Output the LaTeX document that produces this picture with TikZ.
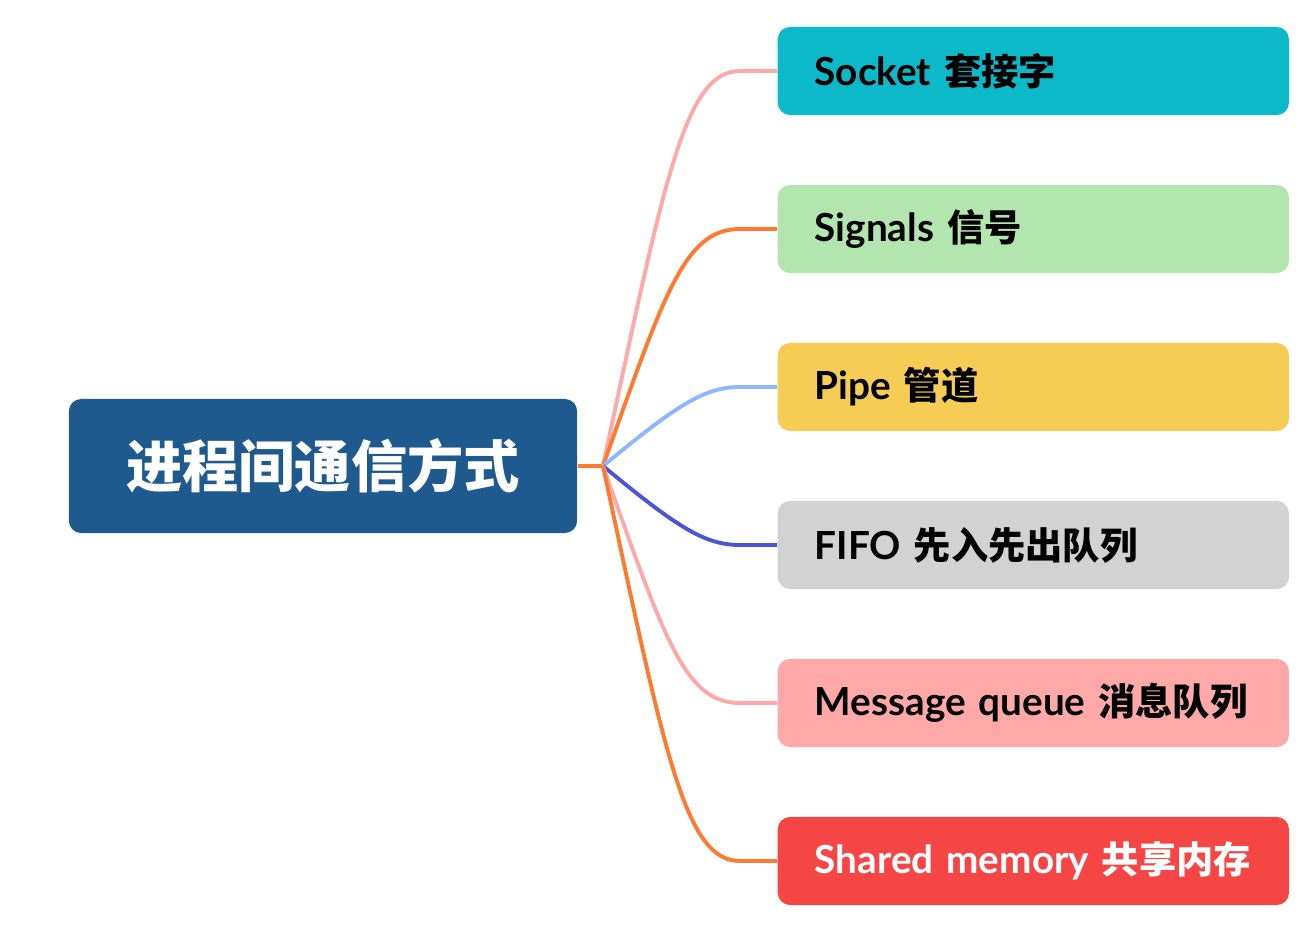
\documentclass[tikz,border=0pt]{standalone}
\usepackage{fontspec}
\setmainfont{Noto Sans CJK SC}
\newfontfamily\latinfont{Lato}
\usepackage{tikz}
\usetikzlibrary{positioning}

\definecolor{rootblue}{HTML}{1E5A8E}
\definecolor{teal}{HTML}{0CB9C9}
\definecolor{lgreen}{HTML}{B2E6AE}
\definecolor{yellow}{HTML}{F5CD55}
\definecolor{lgray}{HTML}{D2D2D2}
\definecolor{pink}{HTML}{FFA8A8}
\definecolor{red}{HTML}{F64545}
\definecolor{orange}{HTML}{FF7A2F}
\definecolor{lblue}{HTML}{8DB7FF}
\definecolor{violet}{HTML}{4A55D6}

\begin{document}
\begin{tikzpicture}[
    x=0.01cm, y=-0.01cm,
    root/.style={rounded corners=3.5pt, fill=rootblue, minimum width=5.08cm,
                 minimum height=1.34cm, text=white, font=\fontsize{16}{18}\selectfont\bfseries},
    topic/.style={rounded corners=3.5pt, minimum height=0.88cm, inner xsep=0pt,
                  text width=5.11cm, align=left, anchor=west,
                  font=\fontsize{11}{13}\selectfont\bfseries},
    branch/.style={line width=1.1pt}
  ]
  \useasboundingbox (0,0) rectangle (1311,930);

  % --- Root ---
  \node[root] (root) at (323,466) {进程间通信方式};
  \coordinate (hub) at (603,466);
  \draw[branch, orange] (root.east) -- (hub);

  % --- Topics ---
  \foreach \name/\ye/\dx/\dy/\ex/\col/\fillc/\txtc/\lat/\zh in {
      socket/71/62/-290/55/pink/teal/black/Socket/套接字,
      signals/229/62/-175/55/orange/lgreen/black/Signals/信号,
      pipe/387/75/-62/35/lblue/yellow/black/Pipe/管道,
      fifo/545/75/62/35/violet/lgray/black/FIFO/先入先出队列,
      msgq/703/62/175/55/pink/pink/black/Message queue/消息队列,
      shm/861/62/290/55/orange/red/white/Shared memory/共享内存}{
    \node[topic, fill=\fillc, text=\txtc] (\name) at (777,\ye)
      {\hspace*{0.37cm}{\latinfont\lat\ }{\fontsize{10.6}{13}\selectfont\zh}};
    \coordinate (\name-in) at (740,\ye);
    \draw[branch, \col] (hub) .. controls +(\dx,\dy) and +(-\ex,0) .. (\name-in)
      -- (\name.west);
  }
\end{tikzpicture}
\end{document}
